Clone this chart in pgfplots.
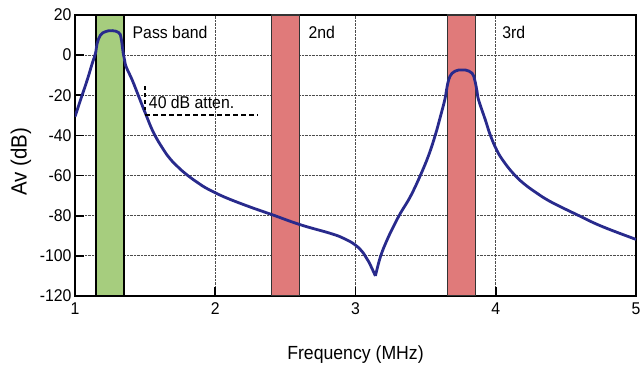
\documentclass[border=0pt]{standalone}
\usepackage{pgfplots}
\pgfplotsset{compat=1.18}
\usepackage{fontspec}
\setmainfont[FakeStretch=0.93]{Liberation Sans}
\definecolor{curvecol}{RGB}{40,42,140}
\definecolor{bandgreen}{RGB}{166,205,126}
\definecolor{bandred}{RGB}{224,122,122}
\begin{document}
\begin{tikzpicture}
\begin{axis}[
  at={(0,0)}, anchor=south west,
  scale only axis, width=561pt, height=281pt,
  xmin=1, xmax=5, ymin=-120, ymax=20,
  xtick={1,2,3,4,5}, ytick={-120,-100,-80,-60,-40,-20,0,20},
  tick pos=left, tick align=inside,
  major tick length=9pt,
  tick style={line width=1.8pt, black},
  grid=major,
  grid style={densely dotted, black!70, line width=0.8pt},
  axis line style={line width=2.6pt, black},
  /pgf/number format/assume math mode=true,
  ticklabel style={font=\fontsize{17}{20}\selectfont},
  xticklabel style={yshift=-3pt},
  xlabel={Frequency (MHz)},
  ylabel={Av (dB)},
  xlabel style={font=\fontsize{19}{22}\selectfont, at={(axis description cs:0.5,-0.2253)}, anchor=base},
  ylabel style={font=\fontsize{22}{25}\selectfont, at={(axis description cs:-0.0861,0.4769)}, anchor=base, rotate=0},
]
% bands
\addplot[draw=black, line width=1.2pt, fill=bandgreen] coordinates {(1.15,-120) (1.15,20) (1.35,20) (1.35,-120)} -- cycle;
\addplot[draw=black!80, line width=1.2pt, fill=bandred] coordinates {(2.40,-120) (2.40,20) (2.60,20) (2.60,-120)} -- cycle;
\addplot[draw=black!80, line width=1.2pt, fill=bandred] coordinates {(3.655,-120) (3.655,20) (3.855,20) (3.855,-120)} -- cycle;
% response curve
\addplot[curvecol, line width=2.8pt, smooth, tension=0.7] coordinates {
 (1.000,-30.7) (1.039,-22.4) (1.087,-12.4) (1.123,-4.1) (1.146,0.9) (1.158,5.9)
 (1.182,10.0) (1.217,11.7) (1.265,12.2) (1.312,11.2) (1.329,8.4) (1.344,0.9)
 (1.360,-4.9) (1.408,-12.4) (1.455,-20.7) (1.502,-29.0) (1.562,-38.9) (1.633,-47.3)
 (1.680,-51.8) (1.728,-55.3) (1.780,-58.6) (1.847,-62.2) (1.910,-65.2) (1.989,-68.2)
 (2.100,-71.7) (2.274,-76.3) (2.406,-79.5) (2.607,-84.5)
 (2.821,-88.8) (2.916,-91.3) (2.999,-94.6) (3.058,-98.8) (3.094,-102.9) (3.142,-110.0)
};
\addplot[curvecol, line width=2.8pt, smooth, tension=0.7] coordinates {
 (3.142,-110.0) (3.178,-100.4) (3.225,-92.1) (3.270,-85.5) (3.320,-78.8) (3.391,-70.5)
 (3.462,-60.0) (3.522,-49.8) (3.569,-39.8) (3.605,-30.7) (3.636,-22.4) (3.650,-17.0)
 (3.664,-12.4) (3.689,-9.0) (3.736,-7.4) (3.783,-7.4) (3.831,-9.0) (3.850,-12.4)
 (3.867,-18.2) (3.878,-22.4) (3.926,-32.3) (3.961,-39.8) (4.009,-47.6) (4.060,-53.3)
 (4.128,-59.2) (4.200,-64.0) (4.294,-68.8) (4.380,-72.6) (4.484,-76.3) (4.603,-80.3)
 (4.700,-83.6) (4.817,-87.0) (5.000,-91.8)
};
% 40 dB attenuation marker
\addplot[black, line width=1.8pt, dash pattern=on 5pt off 3pt] coordinates {(1.502,-30) (2.307,-30)};
\addplot[black, line width=2pt, dash pattern=on 4pt off 3pt] coordinates {(1.502,-15.4) (1.502,-27.3)};
\node[anchor=base west, inner sep=0pt, font=\fontsize{17}{20}\selectfont] at (axis cs:1.526,-26.8) {40 dB atten.};
\node[anchor=base west, inner sep=0pt, font=\fontsize{17}{20}\selectfont] at (axis cs:1.41,8.4) {Pass band};
\node[anchor=base west, inner sep=0pt, font=\fontsize{17}{20}\selectfont] at (axis cs:2.664,8.4) {2nd};
\node[anchor=base west, inner sep=0pt, font=\fontsize{17}{20}\selectfont] at (axis cs:4.045,8.4) {3rd};
\end{axis}
\pgfresetboundingbox
\path[use as bounding box] (-75pt,-73pt) rectangle (568pt,296pt);
\end{tikzpicture}
\end{document}
